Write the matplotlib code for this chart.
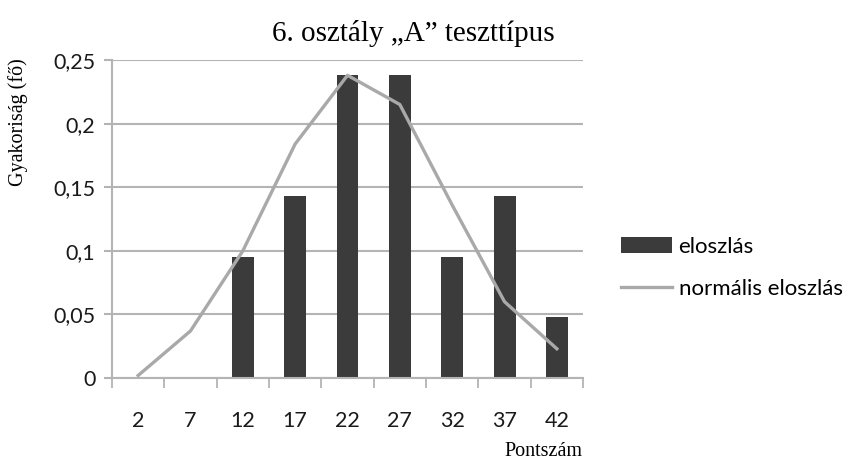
import matplotlib
matplotlib.use("Agg")
import matplotlib.pyplot as plt
import numpy as np

categories = ["2", "7", "12", "17", "22", "27", "32", "37", "42"]
eloszlas = [0, 0, 0.0952, 0.1429, 0.2381, 0.2381, 0.0952, 0.1429, 0.0476]
normalis = [0.002, 0.037, 0.100, 0.184, 0.238, 0.215, 0.136, 0.060, 0.023]
y_ticks = [0, 0.05, 0.1, 0.15, 0.2, 0.25]
y_tick_labels = ["0", "0,05", "0,1", "0,15", "0,2", "0,25"]

title = "6. osztály \u201eA\u201d teszttípus"
ylabel = "Gyakoriság (fő)"
xlabel = "Pontszám"

sans = ["Lato", "DejaVu Sans"]
serif = ["Liberation Serif", "DejaVu Serif"]

fig = plt.figure(figsize=(8.51, 4.61), dpi=100)
ax = fig.add_axes([0.1316, 0.18, 0.5535, 0.6898])

x = np.arange(len(categories))
grid_c = "#b4b4b4"
ax.set_axisbelow(True)
ax.yaxis.grid(True, color=grid_c, linewidth=1.5)
bars = ax.bar(x, eloszlas, width=0.42, color="#3b3b3b", label="eloszlás", zorder=2)
line, = ax.plot(x, normalis, color="#a9a9a9", linewidth=2.4, label="normális eloszlás", zorder=3,
                solid_joinstyle="round")

ax.set_xlim(-0.5, len(categories) - 0.5)
ax.set_ylim(0, 0.25)
ax.set_yticks(y_ticks)
ax.set_yticklabels(y_tick_labels, fontfamily=sans, fontsize=15.5, color="#1a1a1a")
ax.set_xticks(x)
ax.set_xticklabels(categories, fontfamily=sans, fontsize=15.5, color="#1a1a1a")
ax.tick_params(axis="x", which="major", length=0, pad=24)
ax.set_xticks(np.arange(-0.5, len(categories), 1.0), minor=True)
ax.tick_params(axis="x", which="minor", length=7, width=1.3, color=grid_c, direction="out")
ax.tick_params(axis="y", which="major", length=6, width=1.5, color=grid_c, pad=6)

for s in ["top", "right"]:
    ax.spines[s].set_visible(False)
ax.spines["left"].set_color(grid_c)
ax.spines["left"].set_linewidth(1.5)
ax.spines["bottom"].set_color(grid_c)
ax.spines["bottom"].set_linewidth(1.5)

fig.text(0.486, 0.928, title, ha="center", va="center", fontfamily=serif, fontsize=21)
fig.text(0.021, 0.735, ylabel, ha="center", va="center", rotation=90, fontfamily=serif, fontsize=14.5)
fig.text(0.685, 0.011, xlabel, ha="right", va="baseline", fontfamily=serif, fontsize=14.5)

leg = fig.legend(handles=[bars, line], loc="upper left", bbox_to_anchor=(0.706, 0.53),
                 frameon=False, prop={"family": sans, "size": 16},
                 handlelength=2.3, handleheight=0.7, handletextpad=0.3, labelspacing=1.0)

fig.savefig("out.png", dpi=100)
